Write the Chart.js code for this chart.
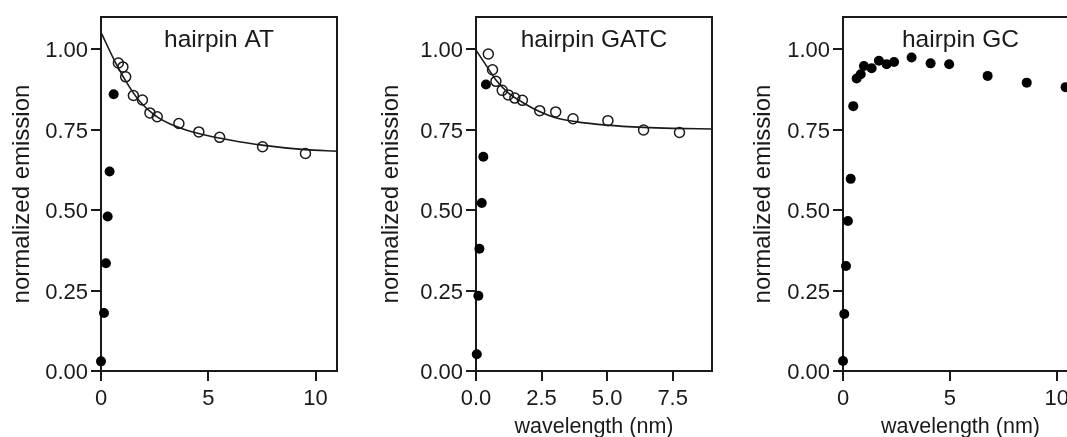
<!DOCTYPE html>
<html lang="en">
<head>
    <meta charset="UTF-8">
    <title>hairpin emission vs wavelength</title>
    <script src="https://cdn.jsdelivr.net/npm/chart.js"></script>
    <style>
        body { margin: 0; background: #fff; width: 1067px; height: 437px; overflow: hidden; position: relative; }
        canvas { position: absolute; top: 0; }
    </style>
</head>
<body>
    <canvas id="chartAT" width="350" height="437" style="left:0px"></canvas>
    <canvas id="chartGATC" width="360" height="437" style="left:360px"></canvas>
    <canvas id="chartGC" width="360" height="437" style="left:730px"></canvas>

    <script>
        // hairpin AT
        const atFilledX = [0.0, 0.14, 0.23, 0.31, 0.40, 0.59];
        const atFilledY = [0.03, 0.18, 0.335, 0.48, 0.62, 0.86];
        const atOpenX = [0.81, 1.02, 1.15, 1.51, 1.93, 2.28, 2.62, 3.63, 4.56, 5.53, 7.53, 9.53];
        const atOpenY = [0.957, 0.945, 0.914, 0.856, 0.842, 0.802, 0.790, 0.769, 0.743, 0.726, 0.697, 0.676];
        const atFitX = [0, 0.7, 1.3, 1.8, 2.5, 3.2, 4.0, 5.0, 6.0, 7.5, 9.5, 11];
        const atFitY = [1.052, 0.955, 0.885, 0.838, 0.795, 0.768, 0.748, 0.731, 0.718, 0.702, 0.688, 0.683];

        // hairpin GATC
        const gatcFilledX = [0.03, 0.09, 0.13, 0.22, 0.28, 0.38];
        const gatcFilledY = [0.052, 0.234, 0.38, 0.522, 0.666, 0.89];
        const gatcOpenX = [0.47, 0.63, 0.76, 1.00, 1.23, 1.48, 1.77, 2.43, 3.04, 3.70, 5.03, 6.39, 7.76];
        const gatcOpenY = [0.985, 0.936, 0.900, 0.872, 0.858, 0.848, 0.841, 0.809, 0.805, 0.784, 0.778, 0.749, 0.741];
        const gatcFitX = [0, 0.4, 0.8, 1.25, 1.75, 2.4, 3.0, 3.8, 5.0, 6.4, 7.5, 9];
        const gatcFitY = [0.997, 0.948, 0.900, 0.863, 0.836, 0.807, 0.788, 0.775, 0.764, 0.757, 0.754, 0.752];

        // hairpin GC
        const gcFilledX = [0.0, 0.06, 0.14, 0.23, 0.36, 0.48, 0.64, 0.83, 0.98, 1.34, 1.68, 2.04, 2.39, 3.21, 4.10, 4.97, 6.77, 8.60, 10.42];
        const gcFilledY = [0.031, 0.177, 0.326, 0.466, 0.597, 0.823, 0.909, 0.922, 0.948, 0.941, 0.964, 0.953, 0.960, 0.974, 0.956, 0.953, 0.917, 0.896, 0.882];

        const yTicks = [0, 0.25, 0.5, 0.75, 1.0];
        const yLabel = 'normalized emission';
        const xLabel = 'wavelength (nm)';

        const ink = '#1a1a1a';
        Chart.defaults.font.family = "'Liberation Sans', Arial, sans-serif";
        Chart.defaults.color = ink;

        const pts = (xs, ys) => xs.map((x, i) => ({ x: x, y: ys[i] }));

        // box around plot area + label inside top
        const framePlugin = {
            id: 'frame',
            beforeDatasetsDraw(chart, args, opts) {
                const { ctx, chartArea: a } = chart;
                ctx.save();
                ctx.strokeStyle = ink;
                ctx.lineWidth = 2;
                ctx.strokeRect(a.left, a.top, a.right - a.left, a.bottom - a.top);
                ctx.fillStyle = ink;
                ctx.font = "24.5px 'Liberation Sans', Arial, sans-serif";
                ctx.textAlign = 'center';
                ctx.textBaseline = 'alphabetic';
                ctx.fillText(opts.label, (a.left + a.right) / 2, 47);
                ctx.restore();
            }
        };

        function makePanel(id, cfg) {
            const datasets = [];
            if (cfg.fitX) {
                datasets.push({
                    data: pts(cfg.fitX, cfg.fitY),
                    showLine: true,
                    borderColor: ink,
                    borderWidth: 1.6,
                    pointRadius: 0,
                    cubicInterpolationMode: 'monotone',
                    fill: false
                });
            }
            if (cfg.openX) {
                datasets.push({
                    data: pts(cfg.openX, cfg.openY),
                    pointRadius: 5,
                    pointBorderWidth: 1.5,
                    pointBorderColor: ink,
                    pointBackgroundColor: 'rgba(0,0,0,0)',
                    clip: false
                });
            }
            datasets.push({
                data: pts(cfg.filledX, cfg.filledY),
                pointRadius: 5,
                pointBorderWidth: 0,
                pointBackgroundColor: '#000',
                clip: false
            });

            return new Chart(document.getElementById(id), {
                type: 'scatter',
                data: { datasets: datasets },
                plugins: [framePlugin],
                options: {
                    responsive: false,
                    animation: false,
                    layout: { padding: { top: 17, right: cfg.padRight, bottom: 0, left: 0 } },
                    plugins: {
                        legend: { display: false },
                        tooltip: { enabled: false },
                        frame: { label: cfg.label }
                    },
                    scales: {
                        x: {
                            type: 'linear',
                            min: 0,
                            max: cfg.xMax,
                            afterFit: s => { s.height = 66; },
                            border: { display: false },
                            grid: { drawOnChartArea: false, drawTicks: true, tickLength: 10, color: ink, lineWidth: 2 },
                            ticks: {
                                stepSize: cfg.xStep,
                                includeBounds: false,
                                padding: 5,
                                font: { size: 22 },
                                color: ink,
                                maxRotation: 0,
                                callback: v => v.toFixed(cfg.xDigits)
                            },
                            title: {
                                display: cfg.showX,
                                text: xLabel,
                                font: { size: 21.5 },
                                color: ink,
                                padding: { top: 0, bottom: -3 }
                            }
                        },
                        y: {
                            min: 0,
                            max: 1.1,
                            afterFit: s => { s.width = cfg.yWidth; },
                            afterBuildTicks: s => { s.ticks = yTicks.map(v => ({ value: v })); },
                            border: { display: false },
                            grid: { drawOnChartArea: false, drawTicks: true, tickLength: 10, color: ink, lineWidth: 2 },
                            ticks: {
                                padding: 3,
                                labelOffset: 2,
                                font: { size: 22 },
                                color: ink,
                                callback: v => v.toFixed(2)
                            },
                            title: {
                                display: true,
                                text: yLabel,
                                font: { size: 24 },
                                color: ink,
                                padding: { top: cfg.yTitlePad, bottom: 0 }
                            }
                        }
                    }
                }
            });
        }

        makePanel('chartAT', {
            label: 'hairpin AT',
            filledX: atFilledX, filledY: atFilledY,
            openX: atOpenX, openY: atOpenY,
            fitX: atFitX, fitY: atFitY,
            xMax: 11, xStep: 5, xDigits: 0, showX: false,
            yWidth: 101, padRight: 13, yTitlePad: 8.3
        });

        makePanel('chartGATC', {
            label: 'hairpin GATC',
            filledX: gatcFilledX, filledY: gatcFilledY,
            openX: gatcOpenX, openY: gatcOpenY,
            fitX: gatcFitX, fitY: gatcFitY,
            xMax: 9, xStep: 2.5, xDigits: 1, showX: true,
            yWidth: 116, padRight: 8, yTitlePad: 17.3
        });

        makePanel('chartGC', {
            label: 'hairpin GC',
            filledX: gcFilledX, filledY: gcFilledY,
            xMax: 11, xStep: 5, xDigits: 0, showX: true,
            yWidth: 113, padRight: 12, yTitlePad: 18.9
        });
    </script>
</body>
</html>
